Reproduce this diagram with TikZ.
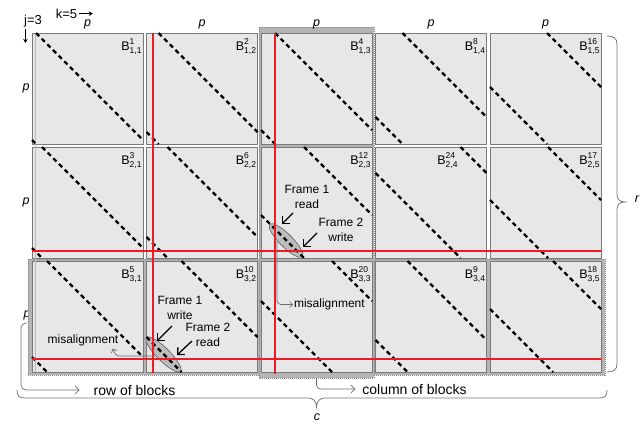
\documentclass[tikz,border=0pt]{standalone}
\usepackage{fontspec}
\setmainfont{Liberation Sans}
\usetikzlibrary{calc,shapes.geometric,arrows.meta}
\newcommand{\bname}[2]{B\raisebox{-3pt}{\fontsize{8.5}{8}\selectfont\begin{tabular}[b]{@{}l@{}}#1\\#2\end{tabular}}}
\newcommand{\wrapdiag}[2]{%
\draw[diag] ($(#1.north west)+(#2,0)$) -- ($(#1.north east)+(0,111-#2)$);
\draw[diag] ($(#1.north west)+(0,111-#2)$) -- ($(#1.north west)+(#2,111)$);}
\begin{document}
\begin{tikzpicture}[x=1pt,y=-1pt,
blk/.style={draw={rgb,255:red,122;green,122;blue,122},fill={rgb,255:red,231;green,231;blue,231},line width=0.8pt,minimum width=111pt,minimum height=111pt,inner sep=0pt,outer sep=0pt},
bframe/.style={draw={rgb,255:red,135;green,135;blue,135},fill={rgb,255:red,180;green,180;blue,180},line width=1pt,densely dotted},
blab/.style={inner sep=0pt,outer sep=0pt,anchor=north east,font=\fontsize{12.5}{14}\selectfont},
plab/.style={inner sep=0pt,outer sep=0pt,font=\itshape\fontsize{12.5}{14}\selectfont},
diag/.style={draw=black,line width=2.3pt,dash pattern=on 4.5pt off 3.5pt},
redline/.style={draw={rgb,255:red,236;green,28;blue,36},line width=1.5pt},
pinkline/.style={draw={rgb,255:red,240;green,165;blue,165},line width=0.6pt},
ellip/.style={ellipse,draw={rgb,255:red,95;green,95;blue,95},fill={rgb,255:red,188;green,188;blue,188},line width=0.6pt,rotate=-45,inner sep=0pt,minimum height=13pt},
note/.style={inner sep=0pt,outer sep=0pt,align=center,font=\fontsize{12}{14.5}\selectfont},
bignote/.style={inner sep=0pt,outer sep=0pt,font=\fontsize{14}{16}\selectfont},
farrow/.style={draw=black,line width=1.3pt,-{Straight Barb[length=5pt,width=10pt]}},
garrow/.style={draw={rgb,255:red,110;green,110;blue,110},line width=0.7pt,-{Straight Barb[length=3pt,width=6pt]}},
brc/.style={draw={rgb,255:red,120;green,120;blue,120},line width=0.8pt},
dirarrow/.style={draw=black,line width=0.8pt,-{Stealth[length=4pt,width=4.5pt]}}]
\path[use as bounding box] (0,0) rectangle (644,423);
\node[plab] (pl1) at (26,88.5) {p};
\node[plab] (pl2) at (26,202.5) {p};
\node[plab] (pl3) at (27,315) {p};
\path[bframe] (28,259) rectangle (605,375);
\path[bframe] (259,27) rectangle (374,378);
\node[blk] (b11) at (87.5,88.5) {};
\node[blk] (b12) at (202,88.5) {};
\node[blk] (b13) at (316.5,88.5) {};
\node[blk] (b14) at (431,88.5) {};
\node[blk] (b15) at (545.5,88.5) {};
\node[blk] (b21) at (87.5,202.5) {};
\node[blk] (b22) at (202,202.5) {};
\node[blk] (b23) at (316.5,202.5) {};
\node[blk] (b24) at (431,202.5) {};
\node[blk] (b25) at (545.5,202.5) {};
\node[blk] (b31) at (87.5,316.5) {};
\node[blk] (b32) at (202,316.5) {};
\node[blk] (b33) at (316.5,316.5) {};
\node[blk] (b34) at (431,316.5) {};
\node[blk] (b35) at (545.5,316.5) {};
\node[blab] (l11) at ($(b11.north east)+(-1.5,6)$) {\bname{1}{1,1}};
\node[blab] (l12) at ($(b12.north east)+(-1.5,6)$) {\bname{2}{1,2}};
\node[blab] (l13) at ($(b13.north east)+(-1.5,6)$) {\bname{4}{1,3}};
\node[blab] (l14) at ($(b14.north east)+(-1.5,6)$) {\bname{8}{1,4}};
\node[blab] (l15) at ($(b15.north east)+(-1.5,6)$) {\bname{16}{1,5}};
\node[blab] (l21) at ($(b21.north east)+(-1.5,6)$) {\bname{3}{2,1}};
\node[blab] (l22) at ($(b22.north east)+(-1.5,6)$) {\bname{6}{2,2}};
\node[blab] (l23) at ($(b23.north east)+(-1.5,6)$) {\bname{12}{2,3}};
\node[blab] (l24) at ($(b24.north east)+(-29,6)$) {\bname{24}{2,4}};
\node[blab] (l25) at ($(b25.north east)+(-1.5,6)$) {\bname{17}{2,5}};
\node[blab] (l31) at ($(b31.north east)+(-1.5,6)$) {\bname{5}{3,1}};
\node[blab] (l32) at ($(b32.north east)+(-1.5,6)$) {\bname{10}{3,2}};
\node[blab] (l33) at ($(b33.north east)+(-1.5,6)$) {\bname{20}{3,3}};
\node[blab] (l34) at ($(b34.north east)+(-1.5,6)$) {\bname{9}{3,4}};
\node[blab] (l35) at ($(b35.north east)+(-1.5,6)$) {\bname{18}{3,5}};
\draw[pinkline] ($(b11.north west)+(3,0)$) -- ($(b31.south west)+(3,0)$);
\node[ellip,minimum width=46pt] (ell1) at (286,240.5) {};
\node[ellip,minimum width=48pt] (ell2) at (163.5,354.5) {};
\wrapdiag{b11}{4}
\wrapdiag{b12}{12}
\wrapdiag{b13}{14}
\wrapdiag{b14}{27}
\wrapdiag{b15}{57}
\wrapdiag{b21}{10}
\wrapdiag{b22}{21}
\wrapdiag{b23}{43}
\wrapdiag{b24}{85}
\wrapdiag{b25}{58}
\wrapdiag{b31}{15}
\wrapdiag{b32}{35}
\wrapdiag{b33}{71}
\wrapdiag{b34}{32}
\wrapdiag{b35}{63}
\draw[redline] ($(b12.north west)+(6.5,0)$) -- ($(b32.south west)+(6.5,1)$);
\draw[redline] ($(b13.north west)+(14,0)$) -- ($(b33.south west)+(14,2)$);
\draw[redline] ($(b21.south west)+(0,-7)$) -- ($(b25.south east)+(0,-7)$);
\draw[redline] ($(b31.south west)+(0,-13)$) -- ($(b35.south east)+(0,-13)$);
\node[plab] (pt1) at ($(b11.north)+(0,-9)$) {p};
\node[plab] (pt2) at ($(b12.north)+(0,-9)$) {p};
\node[plab] (pt3) at ($(b13.north)+(0,-9)$) {p};
\node[plab] (pt4) at ($(b14.north)+(0,-9)$) {p};
\node[plab] (pt5) at ($(b15.north)+(0,-9)$) {p};
\node[inner sep=0pt,anchor=base,font=\fontsize{13}{15}\selectfont] (jlab) at (33,24) {j=3};
\draw[dirarrow] ($(jlab.base west)+(1.5,5)$) -- ++(0,14);
\node[inner sep=0pt,anchor=base,font=\fontsize{13}{15}\selectfont] (klab) at (66.5,18.3) {k=5};
\draw[dirarrow] ($(klab.east)+(1.5,0)$) -- ++(14,0);
\node[note] (f1r) at (307,197) {Frame 1\\read};
\node[note] (f2w) at (341,230) {Frame 2\\write};
\node[note] (f1w) at (180,308) {Frame 1\\write};
\node[note] (f2r) at (208,335) {Frame 2\\read};
\draw[farrow] ($(f1r)+(-14,16)$) -- ($(ell1)+(-4,-16.5)$);
\draw[farrow] ($(f2w)+(-24,3)$) -- ($(ell1)+(17,6.5)$);
\draw[farrow] ($(f1w)+(-8,18)$) -- ($(ell2)+(-6.5,-13.5)$);
\draw[farrow] ($(f2r)+(-16,6)$) -- ($(ell2)+(13.5,0.5)$);
\node[note,anchor=west] (mis1) at (294,304.5) {misalignment};
\draw[garrow,rounded corners=4pt] ($(ell1)+(-9,0.5)$) |- ($(mis1.west)+(-1,0)$);
\node[note] (mis2) at (83,340) {misalignment};
\draw[garrow] ($(ell2)+(-8.5,1.5)$) -- (122,356) .. controls (116,356) .. ($(mis2.south east)+(-5.5,3)$);
\node[bignote] (rowlab) at (134.5,390) {row of blocks};
\coordinate (rowtip) at (27,323);
\draw[garrow,-{Straight Barb[length=4pt,width=8pt]},rounded corners=5pt] (rowtip) -- (21,323) -- (21,390) -- ($(rowlab.west)+(-14,0)$);
\node[bignote] (collab) at (414.5,389) {column of blocks};
\draw[garrow,-{Straight Barb[length=4pt,width=8pt]},rounded corners=4pt] ($(b33.south)+(0,6)$) |- ($(collab.west)+(-7,0)$);
\draw[brc] (17,390) .. controls (17,396) and (19,398) .. (25,398) -- (308,398) .. controls (313,398) and (316.5,401) .. (316.5,407) .. controls (316.5,401) and (320,398) .. (325,398) -- (599,398) .. controls (605,398) and (607,396) .. (607,390);
\node[plab] (clab) at (317,417) {c};
\draw[brc] (607,36) .. controls (613,36) and (617,38) .. (617,44) -- (617,194) .. controls (617,199) and (619,202) .. (625,202) .. controls (619,202) and (617,205) .. (617,210) -- (617,364) .. controls (617,370) and (613,372) .. (607,372);
\node[plab] (rlab) at (637,199) {r};
\end{tikzpicture}
\end{document}
